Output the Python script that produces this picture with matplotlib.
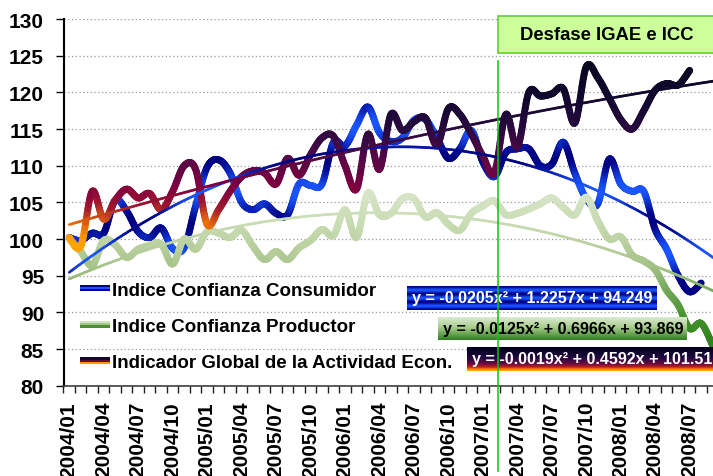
import numpy as np
import matplotlib
matplotlib.use("Agg")
import matplotlib.pyplot as plt
from matplotlib.collections import LineCollection
from matplotlib.colors import LinearSegmentedColormap, Normalize, to_rgb
from matplotlib.legend_handler import HandlerBase
from matplotlib.patches import Rectangle
from matplotlib.lines import Line2D

# ---------------- data ----------------
months = [f"{y}/{m:02d}" for y in range(2004, 2009) for m in range(1, 13)][:57]
tick_labels = months[0:55:3]

consumidor = [100.2, 99.8, 100.8, 100.8, 105.3, 103.8, 101.0, 100.2, 101.5, 98.7,
              98.8, 104.5, 109.8, 110.8, 109.0, 105.0, 104.0, 104.8, 103.5, 103.3,
              107.5, 107.3, 107.5, 113.2, 112.7, 115.5, 118.0, 114.5, 113.3, 113.8,
              116.2, 116.3, 113.8, 111.0, 112.3, 114.8, 110.5, 108.5, 111.8, 112.3,
              112.3, 110.0, 110.2, 113.2, 109.0, 105.5, 104.8, 110.9, 107.5, 106.5,
              106.5, 101.3, 98.6, 95.0, 92.8, 94.0]

productor = [100.0, 98.3, 96.4, 99.8, 99.2, 97.5, 98.6, 99.1, 99.3, 96.6,
             100.0, 98.6, 101.0, 100.8, 100.2, 101.2, 99.0, 97.2, 98.3, 97.2,
             98.8, 99.8, 101.3, 100.5, 104.0, 100.2, 106.3, 103.3, 103.5, 105.5,
             105.5, 103.0, 103.6, 102.0, 101.2, 103.5, 104.5, 105.2, 103.3, 103.5,
             104.1, 104.8, 105.6, 104.3, 103.3, 105.7, 102.5, 100.0, 100.3, 97.8,
             97.0, 95.8, 93.0, 91.0, 87.8, 88.5, 85.5]

igae = [100.2, 99.0, 106.5, 102.7, 105.3, 106.8, 105.6, 106.2, 104.0, 106.5,
        110.0, 109.5, 102.0, 104.0, 106.5, 108.5, 109.3, 109.0, 107.5, 111.0,
        108.7, 111.5, 113.8, 114.0, 110.0, 106.8, 114.3, 109.5, 117.0, 114.8,
        116.0, 116.5, 112.8, 117.8, 117.0, 114.3, 111.3, 109.0, 117.0, 112.5,
        120.0, 119.5, 119.8, 120.5, 115.8, 123.5, 122.0, 119.2, 116.3, 115.0,
        117.5, 120.3, 121.2, 121.0, 123.0]

# trendline coefficients as printed on the chart (x = 1, 2, 3, ...)
trend_consumidor = [-0.0205, 1.2257, 94.249]
trend_productor = [-0.0125, 0.6966, 93.869]
trend_igae = [-0.0019, 0.4592, 101.51]

eq_consumidor = "y = -0.0205x² + 1.2257x + 94.249"
eq_productor = "y = -0.0125x² + 0.6966x + 93.869"
eq_igae = "y = -0.0019x² + 0.4592x + 101.51"

labels = ["Indice Confianza Consumidor", "Indice Confianza Productor",
          "Indicador Global de la Actividad Econ."]

# ---------------- style ----------------
plt.rcParams['font.family'] = ['Liberation Sans', 'DejaVu Sans']
plt.rcParams['font.weight'] = 'bold'

W, H = 713, 477
fig = plt.figure(figsize=(W / 100, H / 100), dpi=100)
ax_left, ax_right, ax_top, ax_bot = 63.5, 713.0, 20.0, 386.7
ax = fig.add_axes([ax_left / W, 1 - ax_bot / H, (ax_right - ax_left) / W, (ax_bot - ax_top) / H])

XMAX = 56.03

igae_cmap = LinearSegmentedColormap.from_list("igae", [
    (0.00, '#ffaa00'), (0.10, '#ff9900'), (0.17, '#e06010'), (0.25, '#a01830'),
    (0.35, '#800040'), (0.50, '#560845'), (0.65, '#2a0a40'), (0.81, '#120830'),
    (1.00, '#080820')])
igae_norm = Normalize(98, 124)

prod_cmap = LinearSegmentedColormap.from_list("prod", [
    (0.00, '#2a7a1a'), (0.174, '#3c8c28'), (0.348, '#6aa450'), (0.478, '#98bc7c'),
    (0.609, '#b4cc98'), (0.739, '#c4d8ac'), (0.870, '#cfe0bc'), (1.00, '#dae8cc')])
prod_norm = Normalize(84, 107)

navy = np.array(to_rgb('#000080'))
bright = np.array(to_rgb('#1a55ff'))


def cons_colors(y):
    t = 0.5 + 0.5 * np.cos(2 * np.pi * (np.asarray(y) - 102.2) / 8.8)
    rgb = navy[None, :] * t[:, None] + bright[None, :] * (1 - t[:, None])
    return np.column_stack([rgb, np.ones(len(rgb))])


def igae_colors(y):
    return igae_cmap(igae_norm(y))


def prod_colors(y):
    return prod_cmap(prod_norm(y))


def smooth(xv, yv, n=16):
    P = np.column_stack([np.asarray(xv, float), np.asarray(yv, float)])
    Pe = np.vstack([P[0], P, P[-1]])
    out = []
    t = np.linspace(0, 1, n, endpoint=False)[:, None]
    for k in range(len(P) - 1):
        p0, p1, p2, p3 = Pe[k], Pe[k + 1], Pe[k + 2], Pe[k + 3]
        c1 = p1 + (p2 - p0) / 6
        c2 = p2 - (p3 - p1) / 6
        out.append((1 - t) ** 3 * p1 + 3 * (1 - t) ** 2 * t * c1 + 3 * (1 - t) * t ** 2 * c2 + t ** 3 * p2)
    out.append(P[-1:])
    return np.vstack(out)


def grad_line(pts, colorfunc, lw, z):
    segs = np.stack([pts[:-1], pts[1:]], axis=1)
    ymid = (pts[:-1, 1] + pts[1:, 1]) / 2
    lc = LineCollection(segs, colors=colorfunc(ymid), linewidths=lw,
                        capstyle='round', joinstyle='round', zorder=z)
    ax.add_collection(lc)


# data lines
grad_line(smooth(np.arange(len(consumidor)), consumidor), cons_colors, 5.0, 3)
grad_line(smooth(np.arange(len(productor)), productor), prod_colors, 5.0, 3.1)
grad_line(smooth(np.arange(len(igae)), igae), igae_colors, 5.0, 3.2)

# trend lines
xt = np.linspace(0, XMAX + 0.5, 300)
for coef, cf in [(trend_consumidor, cons_colors), (trend_productor, prod_colors), (trend_igae, igae_colors)]:
    yt = np.polyval(coef, xt + 1)
    grad_line(np.column_stack([xt, yt]), cf, 1.9, 3.5)

# axes
ax.set_xlim(-0.5, XMAX)
ax.set_ylim(80, 130)
ax.set_yticks(np.arange(80, 131, 5))
ax.set_xticks(np.arange(0, 55, 3))
ax.set_xticklabels(tick_labels, rotation=90, fontsize=15, fontweight='bold')
ax.set_xticks(np.arange(-0.5, XMAX, 1), minor=True)
ax.tick_params(axis='x', which='major', length=0, pad=11)
ax.tick_params(axis='x', which='minor', length=5, width=1, direction='out', color='#202020')
ax.tick_params(axis='y', which='major', length=6, width=1, direction='out', pad=8, labelsize=15)
for lab in ax.get_yticklabels():
    lab.set_fontweight('bold')
ax.yaxis.grid(True, linestyle=(0, (1, 2)), color='#9a9a9a', linewidth=0.9, zorder=0)
ax.set_axisbelow(True)
for s in ['top', 'right']:
    ax.spines[s].set_visible(False)
ax.spines['left'].set_linewidth(1.5)
ax.spines['left'].set_color('black')
ax.spines['bottom'].set_linewidth(1.2)
ax.spines['bottom'].set_color('#404040')


# legend with striped swatches
class StripeHandler(HandlerBase):
    def __init__(self, colors):
        super().__init__()
        self.colors = colors

    def create_artists(self, legend, orig_handle, xdescent, ydescent, width, height, fontsize, trans):
        n = len(self.colors)
        th = height * 0.5
        y0 = -ydescent + (height - th) / 2
        arts = []
        for k, c in enumerate(self.colors):
            arts.append(Rectangle((-xdescent, y0 + th * (n - 1 - k) / n), width, th / n,
                                  facecolor=c, edgecolor='none', transform=trans))
        return arts


h1, h2, h3 = Line2D([], []), Line2D([], []), Line2D([], [])
leg = ax.legend([h1, h2, h3], labels, loc='upper left', bbox_to_anchor=(0.025, 0.284),
                frameon=False, handlelength=1.6, handletextpad=0.12,
                labelspacing=1.02, borderpad=0, borderaxespad=0,
                prop={'weight': 'bold', 'size': 13.5},
                handler_map={h1: StripeHandler(['#000090', '#1a55ff', '#000090']),
                             h2: StripeHandler(['#d0e4c0', '#a4c68a', '#4a9030']),
                             h3: StripeHandler(['#100830', '#600a40', '#ff9900'])})
leg.set_zorder(6)

# Desfase box
ax.add_patch(Rectangle((0.669, 0.907), 0.36, 0.100, transform=ax.transAxes, facecolor='#ccff99',
                       edgecolor='#66cc33', linewidth=1.2, clip_on=False, zorder=5))
ax.text(0.836, 0.9565, "Desfase IGAE e ICC", transform=ax.transAxes, ha='center', va='center',
        fontsize=13.3, fontweight='bold', color='black', zorder=6)


# equation boxes (own small axes with gradient images)
def grad_array(stops, n=80):
    cm = LinearSegmentedColormap.from_list("g", stops)
    return cm(np.linspace(0, 1, n))[:, None, :]


t = np.linspace(0, 1, 80)
c = 0.5 + 0.5 * np.cos(2 * np.pi * 3 * t)
cons_box = (navy[None, :] * c[:, None] + bright[None, :] * (1 - c[:, None]))[:, None, :]
prod_box = grad_array([(0, '#dcebd0'), (0.45, '#a8cc8c'), (1, '#2e801e')])
igae_box = grad_array([(0, '#000018'), (0.45, '#200a40'), (0.7, '#6a0a40'), (0.84, '#c02020'),
                       (0.92, '#ff7a00'), (1, '#ffb000')])

boxes = [((406.7, 287.3, 656.0, 310.7), cons_box, eq_consumidor, 'white'),
         ((437.7, 318.3, 686.0, 340.7), prod_box, eq_productor, 'black'),
         ((467.0, 348.3, 716.0, 371.7), igae_box, eq_igae, 'white')]
for (x0, y0, x1, y1), arr, txt, tc in boxes:
    bax = fig.add_axes([x0 / W, 1 - y1 / H, (x1 - x0) / W, (y1 - y0) / H], zorder=5)
    bax.imshow(arr, aspect='auto', extent=(0, 1, 0, 1), interpolation='bilinear')
    bax.set_axis_off()
    bax.text(5 / (x1 - x0), 0.5, txt, transform=bax.transAxes, ha='left', va='center',
             fontsize=11.6, fontweight='bold', color=tc)

# vertical marker line (drawn over everything)
lax = fig.add_axes([0, 0, 1, 1], zorder=10)
lax.set_axis_off()
lax.set_xlim(0, W)
lax.set_ylim(H, 0)
vx = ax_left + (37.33 + 0.5) / (XMAX + 0.5) * (ax_right - ax_left)
lax.plot([vx, vx], [62, 472], color='#00cc00', linewidth=1.1)

fig.savefig("out.png", dpi=100)
